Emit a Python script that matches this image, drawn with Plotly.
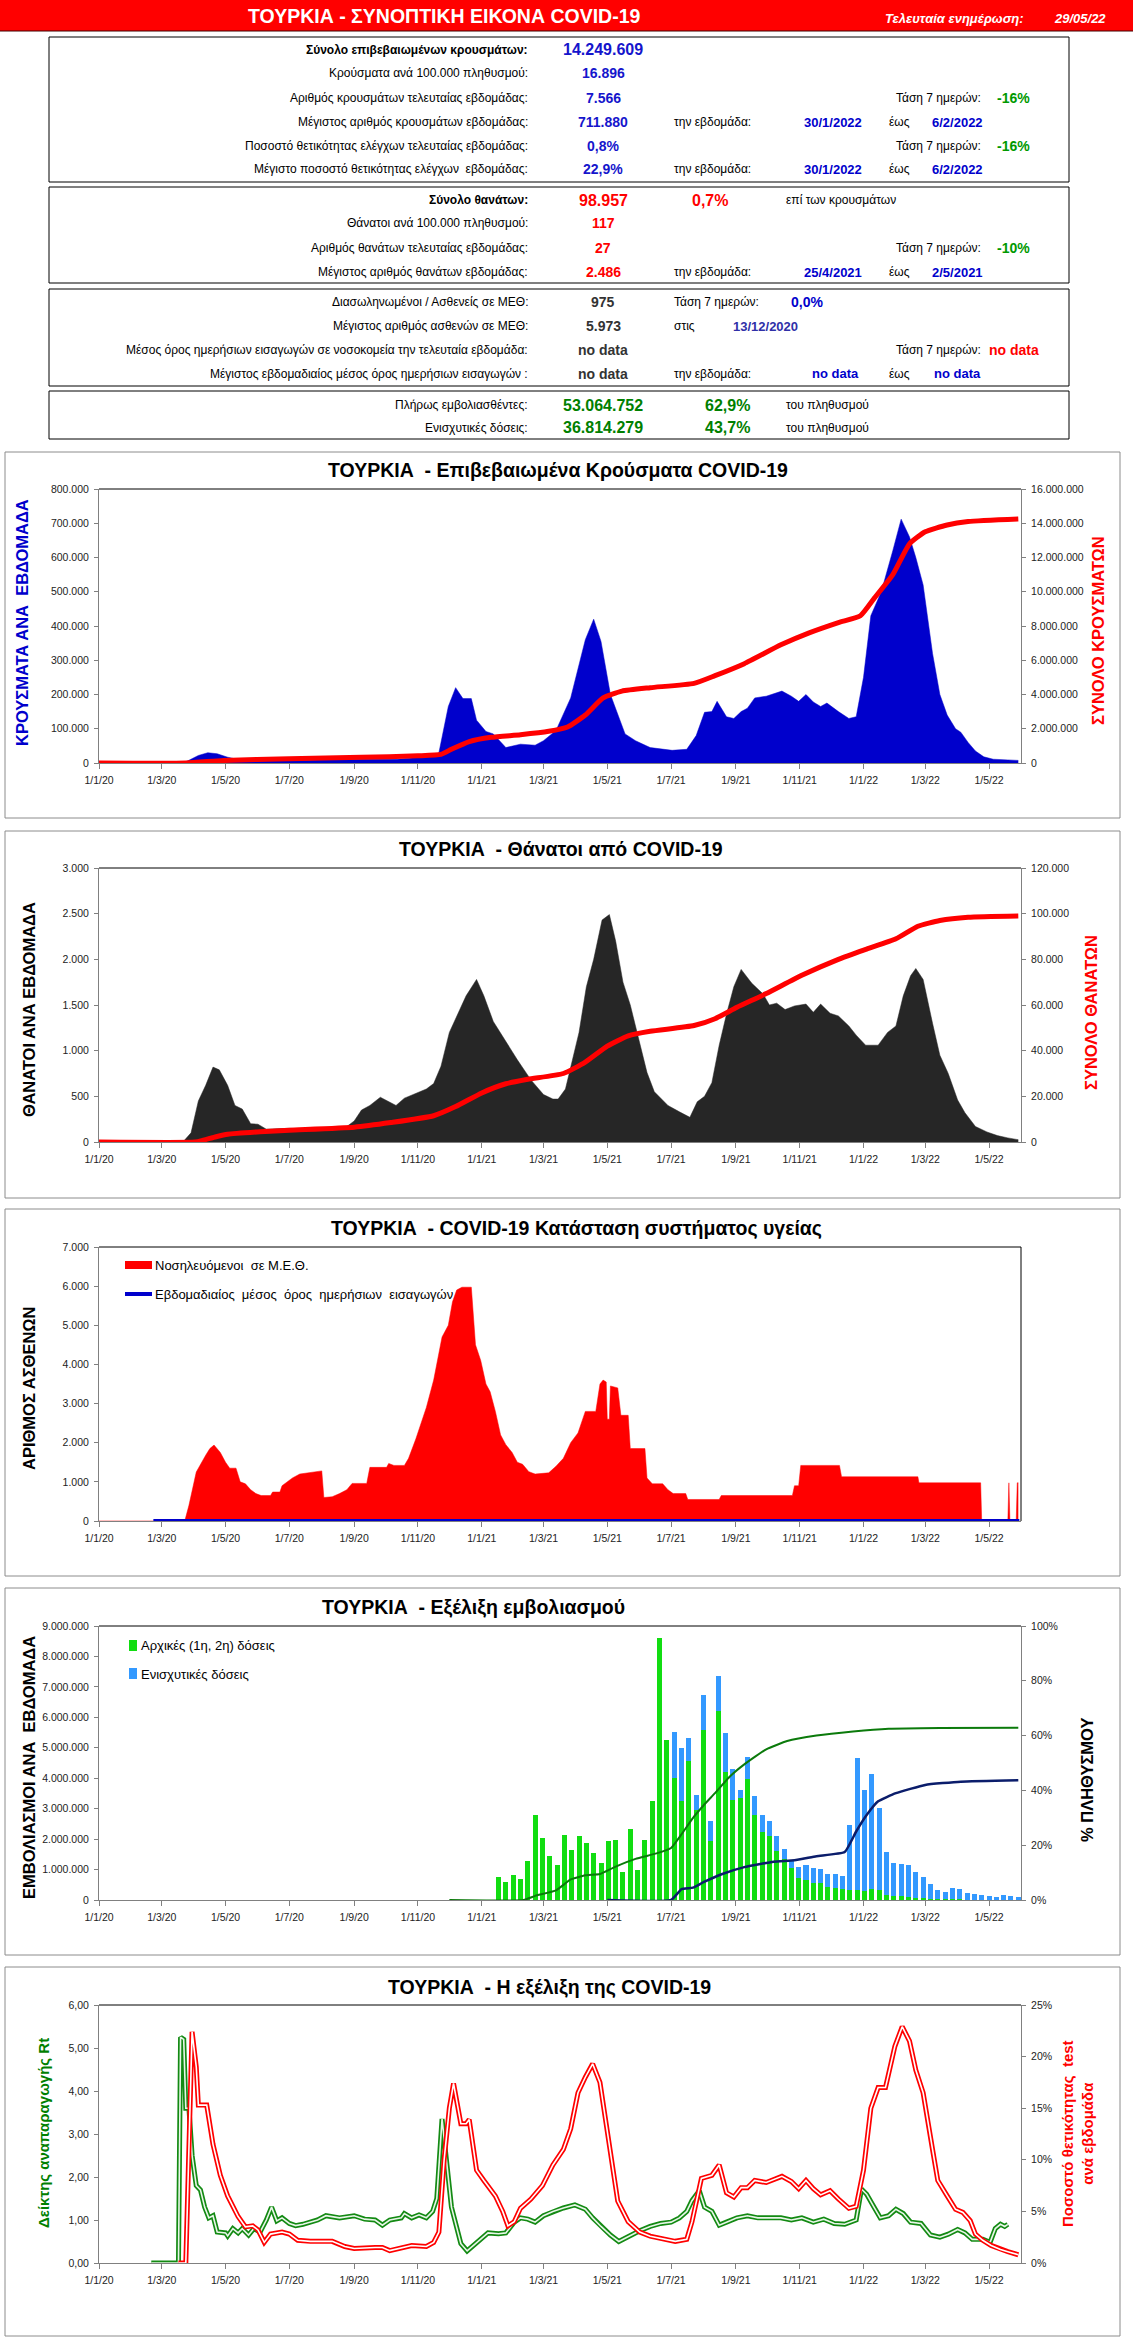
import plotly.graph_objects as go

# ---------------- DATA ----------------
tick_dates = ['2020-01-01', '2020-03-01', '2020-05-01', '2020-07-01', '2020-09-01', '2020-11-01',
              '2021-01-01', '2021-03-01', '2021-05-01', '2021-07-01', '2021-09-01', '2021-11-01',
              '2022-01-01', '2022-03-01', '2022-05-01']
tick_labels = ['1/1/20', '1/3/20', '1/5/20', '1/7/20', '1/9/20', '1/11/20', '1/1/21', '1/3/21',
               '1/5/21', '1/7/21', '1/9/21', '1/11/21', '1/1/22', '1/3/22', '1/5/22']

# Chart 1: weekly cases and cumulative cases
cases_dates = ['2020-01-01', '2020-03-22', '2020-03-27', '2020-04-05', '2020-04-14', '2020-04-23',
               '2020-05-03', '2020-05-13', '2020-06-03', '2020-07-01', '2020-08-04', '2020-09-08',
               '2020-10-12', '2020-11-16', '2020-11-21', '2020-11-30', '2020-12-07', '2020-12-14',
               '2020-12-22', '2020-12-27', '2021-01-05', '2021-01-12', '2021-01-24', '2021-02-07',
               '2021-02-21', '2021-03-01', '2021-03-13', '2021-03-27', '2021-04-10', '2021-04-18',
               '2021-04-25', '2021-05-04', '2021-05-18', '2021-05-28', '2021-06-11', '2021-07-02',
               '2021-07-16', '2021-07-25', '2021-08-02', '2021-08-09', '2021-08-14', '2021-08-23',
               '2021-08-30', '2021-09-06', '2021-09-12', '2021-09-19', '2021-09-30', '2021-10-15',
               '2021-10-24', '2021-10-31', '2021-11-07', '2021-11-14', '2021-11-21', '2021-11-27',
               '2021-12-08', '2021-12-18', '2021-12-25', '2022-01-01', '2022-01-08', '2022-01-18',
               '2022-01-29', '2022-02-06', '2022-02-14', '2022-02-20', '2022-02-27', '2022-03-08',
               '2022-03-15', '2022-03-22', '2022-03-30', '2022-04-04', '2022-04-11', '2022-04-18',
               '2022-04-26', '2022-05-05', '2022-05-19', '2022-05-29']
weekly_cases = [0, 0, 8000, 22000, 30000, 27000, 17000, 10000, 6000, 8000,
                9000, 11000, 11000, 20000, 30000, 165000, 220000, 188000, 188000, 125000,
                92000, 85000, 45000, 55000, 52000, 65000, 95000, 190000, 360000, 420000,
                355000, 200000, 85000, 65000, 45000, 37000, 40000, 80000, 148000, 150000,
                180000, 135000, 130000, 150000, 160000, 190000, 195000, 210000, 195000, 180000,
                200000, 178000, 165000, 175000, 150000, 130000, 135000, 250000, 430000, 500000,
                620000, 712000, 660000, 600000, 520000, 320000, 200000, 140000, 100000, 90000,
                60000, 35000, 18000, 11000, 9000, 7600]
cum_cases_dates = ['2020-01-01', '2020-03-24', '2020-04-29', '2020-07-01', '2020-09-08', '2020-11-01',
                   '2020-11-23', '2020-12-03', '2020-12-20', '2021-01-10', '2021-02-07', '2021-03-06',
                   '2021-03-24', '2021-04-10', '2021-04-27', '2021-05-15', '2021-06-11', '2021-07-23',
                   '2021-08-12', '2021-09-09', '2021-10-14', '2021-11-10', '2021-12-08', '2021-12-29',
                   '2022-01-11', '2022-01-29', '2022-02-14', '2022-03-01', '2022-03-22', '2022-04-11',
                   '2022-05-29']
cum_cases = [0, 0, 150000, 250000, 330000, 420000, 500000, 800000, 1250000, 1500000,
             1650000, 1850000, 2100000, 2800000, 3800000, 4200000, 4400000, 4650000, 5100000, 5800000,
             6900000, 7600000, 8200000, 8600000, 9600000, 11000000, 12800000, 13500000, 13900000, 14100000,
             14250000]

# Chart 2: weekly deaths and cumulative deaths
deaths_dates = ['2020-01-01', '2020-03-17', '2020-03-22', '2020-03-29', '2020-04-05', '2020-04-12',
                '2020-04-19', '2020-04-25', '2020-05-03', '2020-05-10', '2020-05-17', '2020-05-25',
                '2020-06-01', '2020-06-09', '2020-07-01', '2020-08-04', '2020-08-25', '2020-09-01',
                '2020-09-08', '2020-09-16', '2020-09-26', '2020-10-11', '2020-10-19', '2020-10-30',
                '2020-11-09', '2020-11-16', '2020-11-23', '2020-12-01', '2020-12-08', '2020-12-17',
                '2020-12-27', '2021-01-03', '2021-01-12', '2021-01-24', '2021-02-04', '2021-02-17',
                '2021-03-01', '2021-03-10', '2021-03-15', '2021-03-22', '2021-03-31', '2021-04-04',
                '2021-04-11', '2021-04-18', '2021-04-26', '2021-05-03', '2021-05-09', '2021-05-16',
                '2021-05-23', '2021-06-01', '2021-06-08', '2021-06-15', '2021-06-28', '2021-07-09',
                '2021-07-19', '2021-07-26', '2021-08-02', '2021-08-09', '2021-08-16', '2021-08-23',
                '2021-08-30', '2021-09-06', '2021-09-16', '2021-09-27', '2021-10-03', '2021-10-10',
                '2021-10-18', '2021-10-27', '2021-11-07', '2021-11-14', '2021-11-21', '2021-11-30',
                '2021-12-08', '2021-12-18', '2021-12-25', '2022-01-03', '2022-01-15', '2022-01-24',
                '2022-02-01', '2022-02-08', '2022-02-15', '2022-02-20', '2022-02-27', '2022-03-08',
                '2022-03-15', '2022-03-23', '2022-04-01', '2022-04-08', '2022-04-18', '2022-04-29',
                '2022-05-09', '2022-05-19', '2022-05-29']
weekly_deaths = [0, 0, 10, 100, 450, 620,
                 820, 790, 620, 400, 360, 200,
                 195, 140, 150, 130, 170, 230,
                 350, 400, 490, 400, 480, 530,
                 580, 640, 830, 1200, 1370, 1600,
                 1780, 1600, 1320, 1100, 900, 680,
                 520, 470, 470, 580, 1030, 1200,
                 1700, 2000, 2430, 2490, 2200, 1750,
                 1500, 1100, 760, 550, 400, 330,
                 270, 440, 500, 650, 1060, 1400,
                 1700, 1890, 1740, 1620, 1500, 1520,
                 1450, 1490, 1510, 1420, 1510, 1410,
                 1380, 1270, 1170, 1060, 1060, 1200,
                 1270, 1600, 1820, 1900, 1780, 1300,
                 950, 750, 460, 320, 170, 110,
                 70, 45, 25]
cum_deaths_dates = ['2020-01-01', '2020-04-02', '2020-04-09', '2020-04-22', '2020-05-03', '2020-06-03',
                    '2020-07-01', '2020-09-01', '2020-10-06', '2020-11-16', '2020-12-07', '2021-01-01',
                    '2021-01-24', '2021-02-14', '2021-03-20', '2021-04-10', '2021-05-01', '2021-05-21',
                    '2021-06-11', '2021-07-23', '2021-08-12', '2021-09-02', '2021-09-30', '2021-11-03',
                    '2021-12-08', '2022-01-04', '2022-02-01', '2022-02-22', '2022-03-15', '2022-04-11',
                    '2022-05-29']
cum_deaths = [0, 0, 700, 2300, 3400, 4500, 5200, 6500, 8500, 11500, 15500, 21500,
              25500, 27500, 30000, 35000, 42000, 46500, 48500, 51000, 54000, 59000, 65000, 73000,
              80000, 84500, 89000, 94500, 97000, 98400, 98957]

# Chart 3: ICU patients and weekly mean of daily admissions
icu_dates = ['2020-01-01', '2020-03-23', '2020-03-24', '2020-03-27', '2020-04-03', '2020-04-07',
             '2020-04-12', '2020-04-16', '2020-04-20', '2020-04-26', '2020-05-01', '2020-05-05',
             '2020-05-11', '2020-05-15', '2020-05-20', '2020-05-25', '2020-05-30', '2020-06-04',
             '2020-06-13', '2020-06-15', '2020-06-22', '2020-06-24', '2020-06-29', '2020-07-04',
             '2020-07-11', '2020-07-18', '2020-07-25', '2020-08-01', '2020-08-03', '2020-08-11',
             '2020-08-18', '2020-08-25', '2020-08-30', '2020-09-13', '2020-09-16', '2020-10-02',
             '2020-10-04', '2020-10-09', '2020-10-19', '2020-10-23', '2020-10-30', '2020-11-06',
             '2020-11-09', '2020-11-16', '2020-11-19', '2020-11-24', '2020-11-30', '2020-12-04',
             '2020-12-08', '2020-12-13', '2020-12-22', '2020-12-26', '2020-12-31', '2021-01-05',
             '2021-01-09', '2021-01-14', '2021-01-19', '2021-01-24', '2021-01-30', '2021-02-04',
             '2021-02-09', '2021-02-15', '2021-02-21', '2021-03-06', '2021-03-13', '2021-03-20',
             '2021-03-27', '2021-04-03', '2021-04-10', '2021-04-20', '2021-04-24', '2021-04-27',
             '2021-04-30', '2021-05-01', '2021-05-03', '2021-05-04', '2021-05-11', '2021-05-14',
             '2021-05-21', '2021-05-23', '2021-06-06', '2021-06-08', '2021-06-13', '2021-06-23',
             '2021-06-28', '2021-07-03', '2021-07-15', '2021-07-17', '2021-08-16', '2021-08-18',
             '2021-10-25', '2021-10-27', '2021-10-31', '2021-11-02', '2021-12-09', '2021-12-11',
             '2022-02-22', '2022-02-23', '2022-04-23', '2022-04-24', '2022-05-19', '2022-05-20',
             '2022-05-21', '2022-05-27', '2022-05-28', '2022-05-29']
icu_patients = [0, 0, 100, 400, 1250, 1450,
                1680, 1850, 1940, 1750, 1500, 1350,
                1350, 1000, 950, 800, 700, 650,
                650, 740, 740, 900, 1000, 1100,
                1200, 1230, 1250, 1280, 600, 620,
                700, 800, 960, 960, 1370, 1370,
                1470, 1420, 1420, 1600, 2100, 2700,
                2900, 3600, 4000, 4700, 5000, 5600,
                5900, 5973, 5973, 4500, 4100, 3500,
                3300, 2800, 2200, 1950, 1750, 1500,
                1450, 1260, 1200, 1230, 1400, 1600,
                2000, 2250, 2800, 2800, 3500, 3600,
                3550, 2600, 2600, 3450, 3400, 2700,
                2700, 1850, 1850, 1100, 950, 950,
                800, 700, 700, 550, 550, 650,
                650, 900, 900, 1420, 1420, 1130,
                1130, 975, 975, 0, 0, 975,
                0, 0, 975, 975]
admissions_dates = ['2020-02-22', '2022-05-30']
admissions = [0, 0]

# Chart 4: weekly vaccinations and coverage
vacc_weeks = ['2021-01-17', '2021-01-24', '2021-01-31', '2021-02-07', '2021-02-14', '2021-02-21',
              '2021-02-28', '2021-03-07', '2021-03-14', '2021-03-21', '2021-03-28', '2021-04-04',
              '2021-04-11', '2021-04-18', '2021-04-25', '2021-05-02', '2021-05-09', '2021-05-16',
              '2021-05-23', '2021-05-30', '2021-06-06', '2021-06-13', '2021-06-20', '2021-06-27',
              '2021-07-04', '2021-07-11', '2021-07-18', '2021-07-25', '2021-08-01', '2021-08-08',
              '2021-08-15', '2021-08-22', '2021-08-29', '2021-09-05', '2021-09-12', '2021-09-19',
              '2021-09-26', '2021-10-03', '2021-10-10', '2021-10-17', '2021-10-24', '2021-10-31',
              '2021-11-07', '2021-11-14', '2021-11-21', '2021-11-28', '2021-12-05', '2021-12-12',
              '2021-12-19', '2021-12-26', '2022-01-02', '2022-01-09', '2022-01-16', '2022-01-23',
              '2022-01-30', '2022-02-06', '2022-02-13', '2022-02-20', '2022-02-27', '2022-03-06',
              '2022-03-13', '2022-03-20', '2022-03-27', '2022-04-03', '2022-04-10', '2022-04-17',
              '2022-04-24', '2022-05-01', '2022-05-08', '2022-05-15', '2022-05-22', '2022-05-29']
initial_doses = [750000, 600000, 820000, 700000, 1280000, 2800000, 2050000, 1450000, 1150000, 2120000,
                 1650000, 2100000, 1880000, 1550000, 1200000, 1930000, 1980000, 930000, 2330000, 980000,
                 1970000, 3250000, 8600000, 5250000, 4000000, 3250000, 4550000, 2950000, 5600000, 1950000,
                 6200000, 4200000, 3300000, 3350000, 3970000, 2800000, 2250000, 2100000, 1600000, 1350000,
                 1050000, 720000, 650000, 550000, 550000, 420000, 380000, 350000, 330000, 330000,
                 300000, 350000, 320000, 150000, 120000, 120000, 100000, 80000, 50000, 30000,
                 30000, 20000, 20000, 20000, 10000, 10000, 10000, 10000, 10000, 10000,
                 10000, 10000]
booster_doses = [0, 0, 0, 0, 0, 0, 0, 0, 0, 0,
                 0, 0, 0, 0, 0, 0, 0, 0, 0, 0,
                 0, 0, 0, 0, 1520000, 1750000, 770000, 500000, 1130000, 650000,
                 1170000, 1300000, 1000000, 250000, 730000, 630000, 550000, 500000, 500000, 330000,
                 280000, 380000, 500000, 500000, 470000, 430000, 470000, 450000, 2120000, 4340000,
                 3320000, 3800000, 2710000, 1430000, 1080000, 1060000, 1050000, 850000, 720000, 500000,
                 300000, 250000, 380000, 340000, 210000, 190000, 160000, 130000, 90000, 160000,
                 130000, 90000]
full_pct_dates = ['2020-12-01', '2021-02-10', '2021-02-21', '2021-03-13', '2021-03-27', '2021-04-10',
                  '2021-04-24', '2021-05-08', '2021-05-28', '2021-06-17', '2021-07-01', '2021-07-11',
                  '2021-07-22', '2021-08-01', '2021-08-12', '2021-08-26', '2021-09-09', '2021-09-30',
                  '2021-10-20', '2021-11-17', '2021-12-22', '2022-01-25', '2022-03-15', '2022-05-29']
full_pct = [0, 0, 0.015, 0.035, 0.075, 0.09, 0.095, 0.12, 0.15, 0.17, 0.19, 0.24,
            0.30, 0.345, 0.39, 0.45, 0.495, 0.55, 0.58, 0.60, 0.615, 0.625, 0.628, 0.629]
booster_pct_dates = ['2021-05-01', '2021-07-01', '2021-07-11', '2021-07-22', '2021-08-01', '2021-08-19',
                     '2021-09-09', '2021-10-07', '2021-10-27', '2021-11-17', '2021-12-14', '2021-12-25',
                     '2022-01-04', '2022-01-15', '2022-02-01', '2022-03-01', '2022-04-04', '2022-05-29']
booster_pct = [0, 0, 0.04, 0.045, 0.065, 0.095, 0.12, 0.14, 0.145, 0.16, 0.175, 0.25,
               0.31, 0.36, 0.39, 0.42, 0.432, 0.437]

# Chart 5: Rt and weekly test positivity
rt_dates = ['2020-02-20', '2020-03-17', '2020-03-19', '2020-03-22', '2020-03-24', '2020-03-27',
            '2020-03-30', '2020-04-03', '2020-04-07', '2020-04-11', '2020-04-15', '2020-04-19',
            '2020-04-23', '2020-05-01', '2020-05-03', '2020-05-08', '2020-05-13', '2020-05-17',
            '2020-05-23', '2020-05-28', '2020-06-03', '2020-06-09', '2020-06-14', '2020-06-19',
            '2020-06-24', '2020-07-01', '2020-07-07', '2020-07-14', '2020-07-28', '2020-08-05',
            '2020-08-18', '2020-09-01', '2020-09-11', '2020-09-21', '2020-09-28', '2020-10-05',
            '2020-10-16', '2020-10-19', '2020-10-26', '2020-11-02', '2020-11-09', '2020-11-15',
            '2020-11-19', '2020-11-24', '2020-12-03', '2020-12-08', '2020-12-12', '2020-12-18',
            '2020-12-24', '2020-12-31', '2021-01-07', '2021-01-17', '2021-01-24', '2021-02-01',
            '2021-02-07', '2021-02-14', '2021-02-21', '2021-03-01', '2021-03-10', '2021-03-20',
            '2021-03-31', '2021-04-10', '2021-04-17', '2021-04-25', '2021-05-04', '2021-05-12',
            '2021-05-21', '2021-06-01', '2021-06-11', '2021-06-21', '2021-07-01', '2021-07-09',
            '2021-07-16', '2021-07-21', '2021-07-28', '2021-08-02', '2021-08-09', '2021-08-16',
            '2021-08-23', '2021-09-02', '2021-09-12', '2021-09-22', '2021-10-14', '2021-10-24',
            '2021-11-03', '2021-11-14', '2021-11-24', '2021-12-04', '2021-12-14', '2021-12-25',
            '2021-12-30', '2022-01-04', '2022-01-11', '2022-01-17', '2022-01-25', '2022-02-01',
            '2022-02-08', '2022-02-15', '2022-02-25', '2022-03-06', '2022-03-15', '2022-03-23',
            '2022-04-01', '2022-04-08', '2022-04-15', '2022-04-25', '2022-05-02', '2022-05-07',
            '2022-05-12', '2022-05-16', '2022-05-19']
rt_values = [0, 0, 5.25, 5.2, 3.6, 3.6,
             2.5, 1.8, 1.7, 1.3, 1.05, 1.1,
             0.72, 0.7, 0.63, 0.8, 0.7, 0.8,
             0.65, 0.8, 0.72, 1.0, 1.3, 0.98,
             1.05, 0.92, 0.87, 0.9, 1.0, 1.1,
             1.05, 1.1, 1.02, 1.0, 0.88, 1.0,
             1.05, 1.15, 1.05, 1.12, 1.05, 1.2,
             1.5, 3.35, 1.3, 0.8, 0.45, 0.28,
             0.4, 0.55, 0.7, 0.68, 0.7, 0.95,
             1.05, 1.02, 0.95, 1.1, 1.2, 1.28,
             1.35, 1.25, 1.05, 0.85, 0.65, 0.5,
             0.62, 0.75, 0.85, 0.92, 0.95, 1.05,
             1.2, 1.45, 1.68, 1.3, 1.2, 0.88,
             0.95, 1.05, 1.1, 1.05, 1.05, 1.0,
             1.05, 0.95, 1.02, 0.92, 0.9, 1.0,
             1.72, 1.6, 1.3, 1.05, 1.1, 1.25,
             1.15, 0.95, 0.92, 0.65, 0.6, 0.67,
             0.78, 0.7, 0.55, 0.55, 0.48, 0.8,
             0.9, 0.85, 0.9]
pos_dates = ['2020-03-17', '2020-03-24', '2020-03-30', '2020-04-03', '2020-04-05', '2020-04-13',
             '2020-04-19', '2020-04-26', '2020-05-03', '2020-05-13', '2020-05-20', '2020-05-27',
             '2020-06-01', '2020-06-07', '2020-06-13', '2020-06-24', '2020-07-01', '2020-07-09',
             '2020-07-21', '2020-08-11', '2020-08-23', '2020-09-01', '2020-09-21', '2020-09-28',
             '2020-10-05', '2020-10-16', '2020-10-26', '2020-11-09', '2020-11-16', '2020-11-21',
             '2020-11-26', '2020-12-01', '2020-12-05', '2020-12-12', '2020-12-17', '2020-12-20',
             '2020-12-27', '2021-01-03', '2021-01-14', '2021-01-21', '2021-01-26', '2021-02-01',
             '2021-02-07', '2021-02-17', '2021-02-28', '2021-03-10', '2021-03-20', '2021-03-27',
             '2021-04-03', '2021-04-10', '2021-04-17', '2021-04-24', '2021-05-02', '2021-05-11',
             '2021-05-21', '2021-06-01', '2021-06-11', '2021-06-25', '2021-07-05', '2021-07-16',
             '2021-07-21', '2021-07-30', '2021-08-09', '2021-08-16', '2021-08-23', '2021-08-30',
             '2021-09-06', '2021-09-12', '2021-09-19', '2021-09-30', '2021-10-15', '2021-10-24',
             '2021-10-31', '2021-11-07', '2021-11-14', '2021-11-21', '2021-11-30', '2021-12-08',
             '2021-12-18', '2021-12-25', '2022-01-01', '2022-01-08', '2022-01-15', '2022-01-22',
             '2022-01-31', '2022-02-07', '2022-02-14', '2022-02-20', '2022-02-27', '2022-03-08',
             '2022-03-13', '2022-03-22', '2022-03-30', '2022-04-06', '2022-04-13', '2022-04-18',
             '2022-04-25', '2022-05-03', '2022-05-12', '2022-05-19', '2022-05-29']
positivity = [0, 0, 0.224, 0.19, 0.153, 0.153,
              0.115, 0.085, 0.065, 0.045, 0.035, 0.036,
              0.032, 0.020, 0.028, 0.030, 0.028, 0.022,
              0.021, 0.021, 0.016, 0.014, 0.015, 0.015,
              0.012, 0.0145, 0.017, 0.016, 0.020, 0.030,
              0.10, 0.15, 0.174, 0.135, 0.135, 0.139,
              0.09, 0.08, 0.065, 0.05, 0.036, 0.04,
              0.053, 0.062, 0.075, 0.095, 0.11, 0.13,
              0.165, 0.18, 0.193, 0.175, 0.12, 0.06,
              0.04, 0.03, 0.026, 0.023, 0.021, 0.023,
              0.04, 0.082, 0.085, 0.095, 0.068, 0.064,
              0.073, 0.073, 0.08, 0.078, 0.084, 0.079,
              0.072, 0.08, 0.072, 0.066, 0.07, 0.062,
              0.053, 0.055, 0.09, 0.15, 0.17, 0.17,
              0.21, 0.229, 0.215, 0.187, 0.165, 0.11,
              0.08, 0.065, 0.052, 0.049, 0.041, 0.028,
              0.022, 0.017, 0.013, 0.011, 0.008]

# Summary table texts
header_title = 'ΤΟΥΡΚΙΑ - ΣΥΝΟΠΤΙΚΗ ΕΙΚΟΝΑ COVID-19'
update_label = 'Τελευταία ενημέρωση:'
update_date = '29/05/22'
cases_labels = ['Σύνολο επιβεβαιωμένων κρουσμάτων:', 'Κρούσματα ανά 100.000 πληθυσμού:',
                'Αριθμός κρουσμάτων τελευταίας εβδομάδας:', 'Μέγιστος αριθμός κρουσμάτων εβδομάδας:',
                'Ποσοστό θετικότητας ελέγχων τελευταίας εβδομάδας:',
                'Μέγιστο ποσοστό θετικότητας ελέγχων  εβδομάδας:']
cases_values = ['14.249.609', '16.896', '7.566', '711.880', '0,8%', '22,9%']
cases_trend = ['-16%', '-16%']
cases_max_week = ['30/1/2022', '6/2/2022']
deaths_labels = ['Σύνολο θανάτων:', 'Θάνατοι ανά 100.000 πληθυσμού:',
                 'Αριθμός θανάτων τελευταίας εβδομάδας:', 'Μέγιστος αριθμός θανάτων εβδομάδας:']
deaths_values = ['98.957', '117', '27', '2.486']
deaths_ratio = '0,7%'
deaths_trend = '-10%'
deaths_max_week = ['25/4/2021', '2/5/2021']
icu_labels = ['Διασωληνωμένοι / Ασθενείς σε ΜΕΘ:', 'Μέγιστος αριθμός ασθενών σε ΜΕΘ:',
              'Μέσος όρος ημερήσιων εισαγωγών σε νοσοκομεία την τελευταία εβδομάδα:',
              'Μέγιστος εβδομαδιαίος μέσος όρος ημερήσιων εισαγωγών :']
icu_values = ['975', '5.973', 'no data', 'no data']
icu_trend = '0,0%'
icu_max_date = '13/12/2020'
adm_trend = 'no data'
adm_max_week = ['no data', 'no data']
vacc_labels = ['Πλήρως εμβολιασθέντες:', 'Ενισχυτικές δόσεις:']
vacc_values = ['53.064.752', '36.814.279']
vacc_pcts = ['62,9%', '43,7%']

chart_titles = ['ΤΟΥΡΚΙΑ  - Επιβεβαιωμένα Κρούσματα COVID-19', 'ΤΟΥΡΚΙΑ  - Θάνατοι από COVID-19',
                'ΤΟΥΡΚΙΑ  - COVID-19 Κατάσταση συστήματος υγείας', 'ΤΟΥΡΚΙΑ  - Εξέλιξη εμβολιασμού',
                'ΤΟΥΡΚΙΑ  - Η εξέλιξη της COVID-19']

# ---------------- LAYOUT HELPERS ----------------
W, H = 1133, 2345
FONT = 'Liberation Sans, Arial, sans-serif'
BLUE_V = '#1515CC'
GREEN_V = '#008000'
RED = '#FF0000'
DARK = '#333333'


def fx(px):
    return px / W


def fy(py):
    return 1 - py / H


annotations = []
shapes = []


def note(px, py, text, size=12, color='black', anchor='right', bold=False, italic=False,
         family=FONT, angle=0):
    t = text.replace('  ', '\u00a0 ')
    if bold:
        t = '<b>' + t + '</b>'
    if italic:
        t = '<i>' + t + '</i>'
    annotations.append(dict(x=fx(px), y=fy(py), xref='paper', yref='paper', text=t, showarrow=False,
                            xanchor=anchor, yanchor='middle', textangle=angle,
                            font=dict(family=family, size=size, color=color)))


def rect(x0, y0, x1, y1, line='black', fill=None, width=1):
    d = dict(type='rect', xref='paper', yref='paper', x0=fx(x0), x1=fx(x1), y0=fy(y1), y1=fy(y0),
             line=dict(color=line, width=width), layer='above')
    if fill:
        d['fillcolor'] = fill
    shapes.append(d)


def seg(x0, y0, x1, y1, color='black', width=1):
    shapes.append(dict(type='line', xref='paper', yref='paper', x0=fx(x0), x1=fx(x1), y0=fy(y0),
                       y1=fy(y1), line=dict(color=color, width=width), layer='above'))


PL, PR = 99, 1021
plots = [(489, 763), (868, 1142), (1247, 1521), (1626, 1900), (2005, 2263)]
boxes = [(452, 818), (831, 1198), (1209, 1576), (1588, 1955), (1967, 2336)]

fig = go.Figure()

# ---------------- TRACES ----------------
fig.add_trace(go.Scatter(x=cases_dates, y=weekly_cases, mode='lines', fill='tozeroy',
                         line=dict(color='#0000CC', width=0.5), fillcolor='#0000CC',
                         xaxis='x', yaxis='y'))
fig.add_trace(go.Scatter(x=cum_cases_dates, y=cum_cases, mode='lines',
                         line=dict(color=RED, width=5, shape='spline', smoothing=0.5),
                         xaxis='x', yaxis='y2'))

fig.add_trace(go.Scatter(x=deaths_dates, y=weekly_deaths, mode='lines', fill='tozeroy',
                         line=dict(color='#262626', width=0.5), fillcolor='#262626',
                         xaxis='x2', yaxis='y3'))
fig.add_trace(go.Scatter(x=cum_deaths_dates, y=cum_deaths, mode='lines',
                         line=dict(color=RED, width=5, shape='spline', smoothing=0.5),
                         xaxis='x2', yaxis='y4'))

fig.add_trace(go.Scatter(x=icu_dates, y=icu_patients, mode='lines', fill='tozeroy',
                         line=dict(color=RED, width=0.5), fillcolor=RED,
                         xaxis='x3', yaxis='y5'))
fig.add_trace(go.Scatter(x=admissions_dates, y=admissions, mode='lines',
                         line=dict(color='#0000CC', width=4), xaxis='x3', yaxis='y5'))

BARW = 4.8 * 86400000
fig.add_trace(go.Bar(x=vacc_weeks, y=initial_doses, width=BARW, marker=dict(color='#11DD11', line=dict(width=0)),
                     xaxis='x4', yaxis='y6'))
fig.add_trace(go.Bar(x=vacc_weeks, y=booster_doses, width=BARW, marker=dict(color='#3399FF', line=dict(width=0)),
                     xaxis='x4', yaxis='y6'))
fig.add_trace(go.Scatter(x=full_pct_dates, y=full_pct, mode='lines',
                         line=dict(color='#0B7A0B', width=2, shape='spline', smoothing=0.4),
                         xaxis='x4', yaxis='y7'))
fig.add_trace(go.Scatter(x=booster_pct_dates, y=booster_pct, mode='lines',
                         line=dict(color='#0B1D6B', width=2.5, shape='spline', smoothing=0.4),
                         xaxis='x4', yaxis='y7'))

fig.add_trace(go.Scatter(x=rt_dates, y=rt_values, mode='lines',
                         line=dict(color='#138A13', width=5), xaxis='x5', yaxis='y8'))
fig.add_trace(go.Scatter(x=rt_dates, y=rt_values, mode='lines',
                         line=dict(color='#E8F6E8', width=1.6), xaxis='x5', yaxis='y8'))
fig.add_trace(go.Scatter(x=pos_dates, y=positivity, mode='lines',
                         line=dict(color=RED, width=5), xaxis='x5', yaxis='y9'))
fig.add_trace(go.Scatter(x=pos_dates, y=positivity, mode='lines',
                         line=dict(color='#FFFFFF', width=1.6), xaxis='x5', yaxis='y9'))

# ---------------- AXES ----------------
TICKFONT = dict(family=FONT, size=10.5, color='#222222')
XRANGE = ['2020-01-01', '2022-05-31 14:00']


def xax(anchor):
    return dict(type='date', range=XRANGE, domain=[fx(PL), fx(PR)], anchor=anchor,
                tickmode='array', tickvals=tick_dates, ticktext=tick_labels,
                ticks='outside', ticklen=5, tickcolor='#808080', showline=True, linecolor='#808080',
                linewidth=1, showgrid=False, zeroline=False, tickfont=TICKFONT, fixedrange=True,
                automargin=False, ticklabelstandoff=2)


def yax(i, rng, dtick, fmt=',', side='left', overlay=None):
    top, bot = plots[i]
    d = dict(range=rng, dtick=dtick, tick0=0, tickformat=fmt, side=side, tickmode='linear',
             ticks='outside', ticklen=4, tickcolor='#808080', showline=True, linecolor='#808080',
             linewidth=1, showgrid=False, zeroline=False, tickfont=TICKFONT, fixedrange=True,
             ticklabelstandoff=3, automargin=False)
    if overlay:
        d['overlaying'] = overlay
    else:
        d['domain'] = [fy(bot), fy(top)]
    return d


lay = dict(
    xaxis=xax('y'), xaxis2=xax('y3'), xaxis3=xax('y5'), xaxis4=xax('y6'), xaxis5=xax('y8'),
    yaxis=dict(yax(0, [0, 800000], 100000), anchor='x'),
    yaxis2=dict(yax(0, [0, 16000000], 2000000, side='right', overlay='y'), anchor='x'),
    yaxis3=dict(yax(1, [0, 3000], 500), anchor='x2'),
    yaxis4=dict(yax(1, [0, 120000], 20000, side='right', overlay='y3'), anchor='x2'),
    yaxis5=dict(yax(2, [0, 7000], 1000), anchor='x3'),
    yaxis6=dict(yax(3, [0, 9000000], 1000000), anchor='x4'),
    yaxis7=dict(yax(3, [0, 1], 0.2, fmt='.0%', side='right', overlay='y6'), anchor='x4'),
    yaxis8=dict(yax(4, [0, 6], 1, fmt='.2f'), anchor='x5'),
    yaxis9=dict(yax(4, [0, 0.25], 0.05, fmt='.0%', side='right', overlay='y8'), anchor='x5'),
)

# ---------------- DECORATION ----------------
# header bar
rect(0, 0, W, 31, line='rgba(0,0,0,0)', fill='#FF0000', width=0)
seg(0, 31, W, 31, color='#400000', width=1)
note(444, 16, header_title, size=19.5, color='white', anchor='center', bold=True)
note(1026, 18, update_label, size=13, color='white', anchor='right', bold=True, italic=True)
note(1108, 18, update_date, size=13, color='white', anchor='right', bold=True, italic=True)

# table boxes
for (y0, y1) in [(37, 182), (187, 283), (289, 386), (391, 439)]:
    rect(49, y0, 1069, y1, line='black', width=1)

LX, VX = 530, 603
rows1 = [50, 73, 98, 122, 146, 169]
for i, (lab, val) in enumerate(zip(cases_labels, cases_values)):
    note(LX, rows1[i], lab, size=12, bold=(i == 0))
    note(VX, rows1[i], val, size=16 if i == 0 else 14, color=BLUE_V, anchor='center', bold=True)
for r, tr in zip([rows1[2], rows1[4]], cases_trend):
    note(983, r, 'Τάση 7 ημερών:', size=12)
    note(1013, r, tr, size=14, color='#009900', anchor='center', bold=True)
for r in [rows1[3], rows1[5]]:
    note(672, r, 'την εβδομάδα:', size=12, anchor='left')
    note(833, r, cases_max_week[0], size=13, color='#0000CC', anchor='center', bold=True)
    note(887, r, 'έως', size=12, anchor='left')
    note(957, r, cases_max_week[1], size=13, color='#0000CC', anchor='center', bold=True)

rows2 = [200, 223, 248, 272]
for i, (lab, val) in enumerate(zip(deaths_labels, deaths_values)):
    note(LX, rows2[i], lab, size=12, bold=(i == 0))
    note(VX, rows2[i], val, size=16 if i == 0 else 14, color=RED, anchor='center', bold=True)
note(710, rows2[0], deaths_ratio, size=16, color=RED, anchor='center', bold=True)
note(784, rows2[0], 'επί των κρουσμάτων', size=12, anchor='left')
note(983, rows2[2], 'Τάση 7 ημερών:', size=12)
note(1013, rows2[2], deaths_trend, size=14, color='#009900', anchor='center', bold=True)
note(672, rows2[3], 'την εβδομάδα:', size=12, anchor='left')
note(833, rows2[3], deaths_max_week[0], size=13, color='#0000CC', anchor='center', bold=True)
note(887, rows2[3], 'έως', size=12, anchor='left')
note(957, rows2[3], deaths_max_week[1], size=13, color='#0000CC', anchor='center', bold=True)

rows3 = [302, 326, 350, 374]
for i, (lab, val) in enumerate(zip(icu_labels, icu_values)):
    note(LX, rows3[i], lab, size=12)
    note(VX, rows3[i], val, size=14, color=DARK, anchor='center', bold=True)
note(672, rows3[0], 'Τάση 7 ημερών:', size=12, anchor='left')
note(807, rows3[0], icu_trend, size=14, color='#0000CC', anchor='center', bold=True)
note(672, rows3[1], 'στις', size=12, anchor='left')
note(765, rows3[1], icu_max_date, size=13, color='#3030A8', anchor='center', bold=True)
note(983, rows3[2], 'Τάση 7 ημερών:', size=12)
note(1014, rows3[2], adm_trend, size=14, color=RED, anchor='center', bold=True)
note(672, rows3[3], 'την εβδομάδα:', size=12, anchor='left')
note(835, rows3[3], adm_max_week[0], size=13, color='#0000CC', anchor='center', bold=True)
note(887, rows3[3], 'έως', size=12, anchor='left')
note(957, rows3[3], adm_max_week[1], size=13, color='#0000CC', anchor='center', bold=True)

rows4 = [405, 428]
for i in range(2):
    note(LX, rows4[i], vacc_labels[i], size=12)
    note(VX, rows4[i], vacc_values[i], size=16, color=GREEN_V, anchor='center', bold=True)
    note(727, rows4[i], vacc_pcts[i], size=16, color=GREEN_V, anchor='center', bold=True)
    note(784, rows4[i], 'του πληθυσμού', size=12, anchor='left')

# chart boxes, frames and titles
for (b0, b1) in boxes:
    rect(5, b0, 1120, b1, line='#8C8C8C', width=1)
for i, (t, b) in enumerate(plots):
    seg(PL, t, PR, t, color='black', width=1)
seg(PR, plots[2][0], PR, plots[2][1], color='black', width=1)

title_pos = [(558, 470), (561, 849), (576, 1228), (473, 1607), (549, 1987)]
for t, (x, y) in zip(chart_titles, title_pos):
    note(x, y, t, size=19.5, anchor='center', bold=True)

# axis titles
CAP = 16.5
note(22, 623, 'ΚΡΟΥΣΜΑΤΑ ΑΝΑ  ΕΒΔΟΜΑΔΑ', size=CAP, color='#0000CC', anchor='center', bold=True, angle=-90)
note(1098, 631, 'ΣΥΝΟΛΟ ΚΡΟΥΣΜΑΤΩΝ', size=CAP, color=RED, anchor='center', bold=True, angle=-90)
note(29, 1010, 'ΘΑΝΑΤΟΙ ΑΝΑ ΕΒΔΟΜΑΔΑ', size=CAP, color='black', anchor='center', bold=True, angle=-90)
note(1091, 1013, 'ΣΥΝΟΛΟ ΘΑΝΑΤΩΝ', size=CAP, color=RED, anchor='center', bold=True, angle=-90)
note(29, 1388, 'ΑΡΙΘΜΟΣ ΑΣΘΕΝΩΝ', size=CAP, color='black', anchor='center', bold=True, angle=-90)
note(29, 1768, 'ΕΜΒΟΛΙΑΣΜΟΙ ΑΝΑ  ΕΒΔΟΜΑΔΑ', size=CAP, color='black', anchor='center', bold=True, angle=-90)
note(1087, 1780, '% ΠΛΗΘΥΣΜΟΥ', size=CAP, color='black', anchor='center', bold=True, angle=-90)
note(43, 2133, 'Δείκτης αναπαραγωγής Rt', size=15, color='#008000', anchor='center', bold=True, angle=-90)
note(1077, 2134, 'Ποσοστό θετικότητας  test<br>ανά εβδομάδα', size=15, color=RED, anchor='center',
     bold=True, angle=-90)

# legends (chart 3, chart 4)
rect(125, 1261, 152, 1269, line='rgba(0,0,0,0)', fill=RED, width=0)
note(153, 1265, 'Νοσηλευόμενοι  σε Μ.Ε.Θ.', size=13, anchor='left')
seg(125, 1294, 152, 1294, color='#0000CC', width=4)
note(153, 1294, 'Εβδομαδιαίος  μέσος  όρος  ημερήσιων  εισαγωγών', size=13, anchor='left')

rect(129, 1640, 137, 1651, line='rgba(0,0,0,0)', fill='#11DD11', width=0)
note(139, 1645, 'Αρχικές (1η, 2η) δόσεις', size=13, anchor='left')
rect(129, 1668, 137, 1679, line='rgba(0,0,0,0)', fill='#3399FF', width=0)
note(139, 1674, 'Ενισχυτικές δόσεις', size=13, anchor='left')

fig.update_layout(template='none', width=W, height=H, margin=dict(l=0, r=0, t=0, b=0, pad=0),
                  autosize=False, paper_bgcolor='white', plot_bgcolor='white', showlegend=False,
                  separators=',.', barmode='stack', bargap=0.3,
                  annotations=annotations, shapes=shapes, font=dict(family=FONT), **lay)

fig.write_html('out.html', post_script="document.body.style.margin='0';",
               config={'displayModeBar': False, 'staticPlot': True})
